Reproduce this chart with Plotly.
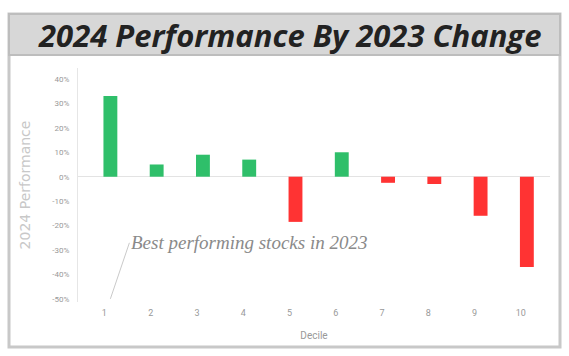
import plotly.graph_objects as go

deciles = ["1", "2", "3", "4", "5", "6", "7", "8", "9", "10"]
perf_2024 = [33, 5, 9, 7, -18.5, 10, -2.5, -3, -16, -37]
tick_vals = [40, 30, 20, 10, 0, -10, -20, -30, -40, -50]
tick_text = ["40%", "30%", "20%", "10%", "0%", "-10%", "-20%", "-30%", "-40%", "-50%"]

colors = ["#2fbf6a" if v >= 0 else "#ff3333" for v in perf_2024]

W, H = 569, 356
L, R, T, B = 78, 19, 68, 54

fig = go.Figure(go.Bar(x=deciles, y=perf_2024, marker=dict(color=colors, line=dict(width=0)),
                       width=0.3))

def px(x):
    return (x - L) / (W - L - R)

def py(y):
    return 1 - (y - T) / (H - T - B)

shapes = [
    dict(type="rect", xref="paper", yref="paper", x0=px(9), x1=px(560), y0=py(347), y1=py(14),
         line=dict(color="#c8c8c8", width=3), fillcolor="rgba(0,0,0,0)", layer="below"),
    dict(type="rect", xref="paper", yref="paper", x0=px(9), x1=px(560), y0=py(55), y1=py(14),
         line=dict(color="#bdbdbd", width=2), fillcolor="#d7d7d7", layer="below"),
]

fig.update_layout(
    width=W, height=H,
    margin=dict(l=L, r=R, t=T, b=B),
    paper_bgcolor="white", plot_bgcolor="white",
    shapes=shapes,
    showlegend=False,
    font=dict(family="Roboto, Arial, sans-serif", color="#9a9a9a", size=8),
    annotations=[
        dict(text="<b><i>2024 Performance By 2023 Change</i></b>", xref="paper", yref="paper",
             x=px(289), y=py(35), xanchor="center", yanchor="middle", showarrow=False,
             font=dict(family="Open Sans, Arial, sans-serif", size=31, color="#222222", weight=800)),
        dict(text="<i>Best performing stocks in 2023</i>", xref="x", yref="y",
             x=0, y=-50, ax=19, ay=-56,
             xanchor="left", yanchor="middle",
             showarrow=True, arrowhead=0, arrowwidth=0.8, arrowcolor="#bbbbbb",
             font=dict(family="Liberation Serif, serif", size=19, color="#8a8a8a"),
             standoff=0),
    ],
)

fig.update_xaxes(type="category", range=[-0.7, 9.5], showgrid=False, zeroline=False,
                 showline=False, ticks="", ticklabelshift=-6, ticklabelstandoff=4,
                 title=dict(text="Decile", standoff=14, font=dict(size=10, color="#999999")),
                 tickfont=dict(size=9, color="#999999"))
fig.update_yaxes(range=[-51.3, 44.5], tickvals=tick_vals, ticktext=tick_text,
                 showgrid=False, zeroline=True, zerolinecolor="#e3e3e3", zerolinewidth=1,
                 showline=True, linecolor="#e6e6e6", linewidth=1, ticks="",
                 ticklabelstandoff=6,
                 title=dict(text="2024 Performance", standoff=18,
                            font=dict(family="DejaVu Sans, sans-serif", size=14, color="#c8c8c8")),
                 tickfont=dict(size=8, color="#999999"))

fig.write_html("out.html")
